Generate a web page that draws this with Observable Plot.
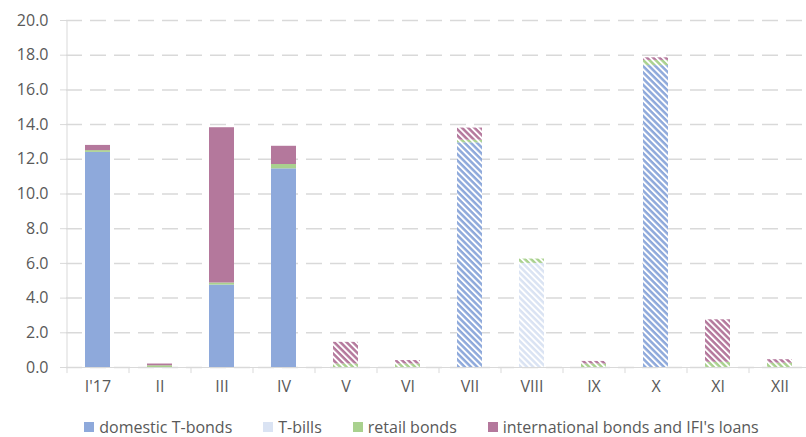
<!DOCTYPE html>
<html>
<head>
<meta charset="utf-8">
<script src="https://cdn.jsdelivr.net/npm/d3@7"></script>
<script src="https://cdn.jsdelivr.net/npm/@observablehq/plot@0.6"></script>
<style>
  body { margin: 0; background: #fff; font-family: "Open Sans", sans-serif; }
  #legend { display: flex; justify-content: center; padding-left: 37px; gap: 31px; height: 32px; align-items: center; padding-top: 12px; box-sizing: border-box; font-size: 16px; color: #595959; }
  .item { display: flex; align-items: center; gap: 5px; white-space: nowrap; }
  .sw { width: 10px; height: 10px; display: inline-block; }
</style>
</head>
<body>
<div id="chart"></div>
<div id="legend"></div>
<script>
const months = ["I'17", "II", "III", "IV", "V", "VI", "VII", "VIII", "IX", "X", "XI", "XII"];
const hatched = [false, false, false, false, true, true, true, true, true, true, true, true];
const seriesNames = ["domestic T-bonds", "T-bills", "retail bonds", "international bonds and IFI's loans"];
const seriesColors = ["#8EA9DB", "#DAE3F3", "#A9D18E", "#B4789C"];
const domesticTBonds = [12.4, 0, 4.75, 11.45, 0, 0, 12.95, 0, 0, 17.4, 0, 0];
const tBills = [0, 0, 0, 0, 0, 0, 0, 6.0, 0, 0, 0, 0];
const retailBonds = [0.1, 0.1, 0.12, 0.25, 0.2, 0.2, 0.15, 0.25, 0.2, 0.3, 0.3, 0.25];
const intlBonds = [0.3, 0.1, 8.95, 1.05, 1.25, 0.2, 0.7, 0, 0.15, 0.15, 2.45, 0.2];
const yTicks = [0, 2, 4, 6, 8, 10, 12, 14, 16, 18, 20];

const seriesValues = [domesticTBonds, tBills, retailBonds, intlBonds];
const rows = [];
months.forEach((m, i) => {
  seriesValues.forEach((vals, k) => {
    if (vals[i] > 0) rows.push({
      month: m, series: seriesNames[k], value: vals[i],
      fill: hatched[i] ? `url(#hatch-${k})` : seriesColors[k]
    });
  });
});

const W = 806, H = 405, ML = 66, MR = -4, MT = 20, MB = 38;
const halfStep = (W - MR - ML) / months.length / 2;
const grey = "#d9d9d9";
const textColor = "#595959";

const svg = Plot.plot({
  width: W, height: H,
  marginLeft: ML, marginRight: MR, marginTop: MT, marginBottom: MB,
  style: { fontFamily: "'Open Sans', sans-serif", fontSize: "16px", color: textColor, background: "#fff" },
  x: { domain: months, paddingInner: 0.6, paddingOuter: 0.3, label: null },
  y: { domain: [0, 20], label: null },
  color: { type: "identity" },
  marks: [
    Plot.gridY(yTicks, { stroke: grey, strokeOpacity: 1, strokeWidth: 1.5, strokeDasharray: "16,8" }),
    Plot.axisY(yTicks, { tickFormat: d3.format(".1f"), tickSize: 6, tickPadding: 12, stroke: grey, fill: textColor, label: null }),
    Plot.axisX({ tickSize: 0, tickPadding: 13, fill: textColor, label: null }),
    Plot.ruleX([months[0]], { y1: 0, y2: 20, dx: -halfStep, stroke: grey, strokeWidth: 1 }),
    Plot.ruleX(months, { x: d => d, y1: 0, y2: -0.35, dx: -halfStep, stroke: grey, strokeWidth: 1 }),
    Plot.ruleY([0], { stroke: grey, strokeWidth: 1.2 }),
    Plot.barY(rows, { x: "month", y: "value", fill: "fill" })
  ]
});

const defs = d3.select(svg).insert("defs", ":first-child");
seriesColors.forEach((c, k) => {
  const p = defs.append("pattern")
    .attr("id", `hatch-${k}`)
    .attr("patternUnits", "userSpaceOnUse")
    .attr("width", 4.4).attr("height", 4.4)
    .attr("patternTransform", "rotate(45)");
  p.append("rect").attr("width", 4.4).attr("height", 4.4).attr("fill", "#fff");
  p.append("rect").attr("width", 4.4).attr("height", 2.5).attr("fill", c);
});

document.getElementById("chart").appendChild(svg);

const legend = d3.select("#legend");
seriesNames.forEach((s, k) => {
  const it = legend.append("div").attr("class", "item");
  it.append("span").attr("class", "sw").style("background", seriesColors[k]);
  it.append("span").text(s);
});
</script>
</body>
</html>
